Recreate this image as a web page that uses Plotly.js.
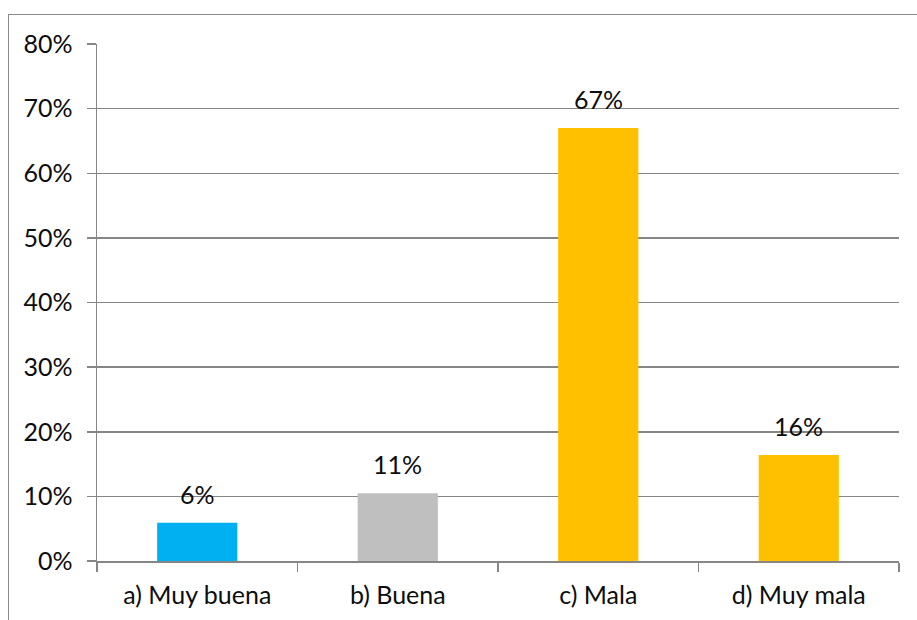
<!DOCTYPE html>
<html>
<head>
<meta charset="utf-8">
<script src="https://cdn.plot.ly/plotly-3.0.1.min.js"></script>
<style>
  html, body { margin: 0; padding: 0; background: #ffffff; overflow: hidden; }
  #frame { position: absolute; left: 8px; top: 14px; width: 1000px; height: 700px;
           border-left: 1.5px solid #8a8a8a; border-top: 1.5px solid #8a8a8a; }
  #chart { position: absolute; left: 0; top: 0; width: 917px; height: 620px; }
</style>
</head>
<body>
<div id="frame"></div>
<div id="chart"></div>
<script>
const categories = ["a) Muy buena", "b) Buena", "c) Mala", "d) Muy mala"];
const values = [0.059, 0.105, 0.67, 0.164];
const valueLabels = ["6%", "11%", "67%", "16%"];
const barColors = ["#00b0f0", "#bfbfbf", "#ffc000", "#ffc000"];
const yTickVals = [0, 0.1, 0.2, 0.3, 0.4, 0.5, 0.6, 0.7, 0.8];
const yTickText = ["0%", "10%", "20%", "30%", "40%", "50%", "60%", "70%", "80%"];

const font = { family: "Lato, 'Open Sans', sans-serif", size: 25, color: "#0d0d0d" };

const trace = {
  type: "bar",
  x: categories,
  y: values,
  marker: { color: barColors },
  width: 0.4,
  hoverinfo: "none"
};

const annotations = categories.map((c, i) => ({
  x: c, y: values[i], xref: "x", yref: "y",
  text: valueLabels[i], showarrow: false,
  yanchor: "bottom", yshift: 12,
  font: font
}));

const layout = {
  width: 917, height: 620,
  margin: { l: 97, r: 18, t: 44, b: 59 },
  paper_bgcolor: "rgba(0,0,0,0)",
  plot_bgcolor: "rgba(0,0,0,0)",
  font: font,
  showlegend: false,
  bargap: 0.6,
  xaxis: {
    type: "category",
    showgrid: false,
    showline: true, linecolor: "#868686", linewidth: 1.5,
    ticks: "outside", tickson: "boundaries", ticklen: 9,
    tickcolor: "#868686", tickwidth: 1.5,
    ticklabelstandoff: 11,
    tickfont: font,
    fixedrange: true
  },
  yaxis: {
    range: [0, 0.8],
    tickvals: yTickVals, ticktext: yTickText,
    showgrid: true, gridcolor: "#868686", gridwidth: 1.5,
    zeroline: false,
    showline: true, linecolor: "#868686", linewidth: 1.5,
    ticks: "outside", ticklen: 9, tickcolor: "#868686", tickwidth: 1.5,
    ticklabelstandoff: 9,
    tickfont: font,
    fixedrange: true
  },
  annotations: annotations
};

Plotly.newPlot("chart", [trace], layout, { displayModeBar: false, staticPlot: true });
</script>
</body>
</html>
